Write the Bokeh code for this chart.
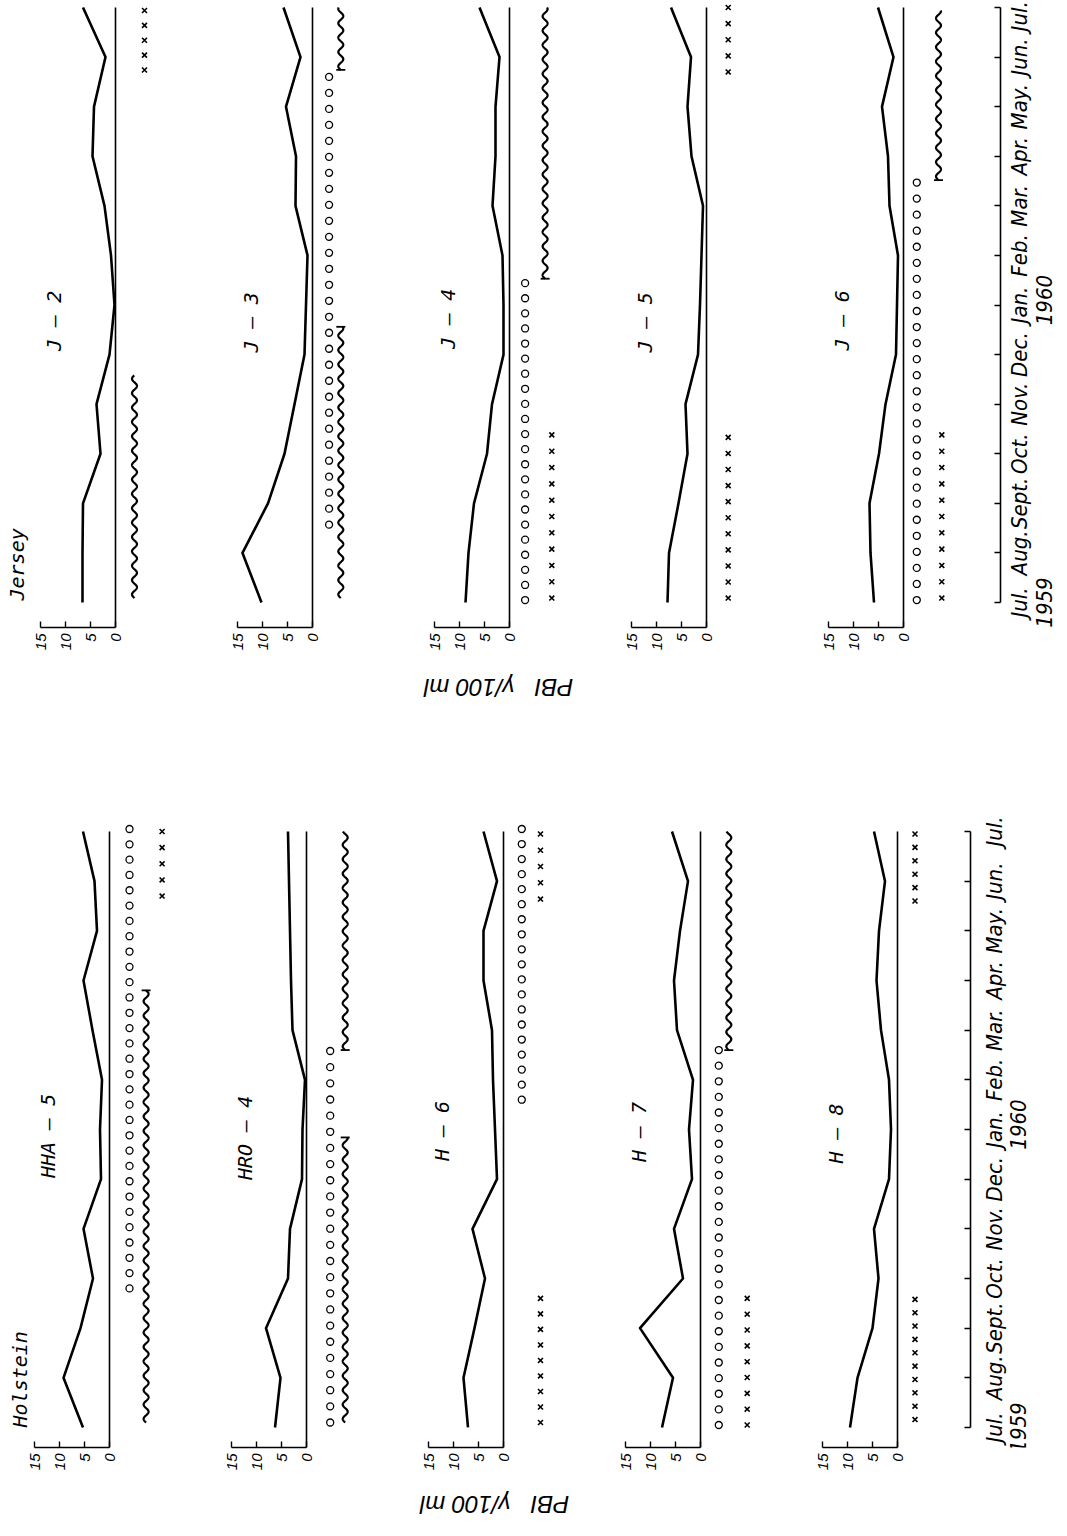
import math
import numpy as np
from bokeh.plotting import figure
from bokeh.layouts import row, column
from bokeh.models import Range1d, FixedTicker
from bokeh.embed import file_html
from bokeh.resources import INLINE
from bokeh.core.properties import value

# ------------------------------------------------------------------ data
month_pos = [0, 1, 2, 3, 4, 5, 6, 7, 8, 9, 10, 11, 12]      # Jul 1959 ... Jul 1960
month_names = ["Jul.", "Aug.", "Sept.", "Oct.", "Nov.", "Dec.", "Jan.",
               "Feb.", "Mar.", "Apr.", "May.", "Jun.", "Jul."]
year_names = ["1959", "1960"]
year_pos = [0.0, 6.1]
pbi_ticks = [0, 5, 10, 15]
axis_title = "PBI\u00a0\u00a0\u00a0γ/100 ml"

holstein_names = ["HHA — 5", "HRO — 4", "H — 6", "H — 7", "H — 8"]
jersey_names = ["J — 2", "J — 3", "J — 4", "J — 5", "J — 6"]

# PBI (gamma/100 ml), monthly, Jul 1959 .. Jul 1960
HHA5 = [5.3, 9.2, 5.8, 3.3, 5.2, 1.7, 1.9, 1.5, 3.4, 5.2, 2.5, 3.0, 5.3]
HRO4 = [6.3, 5.2, 8.1, 3.7, 3.3, 0.9, 0.8, 0.3, 2.8, 3.1, 3.3, 3.5, 3.7]
H6 = [7.1, 8.0, 5.8, 3.7, 6.2, 1.3, 1.7, 2.1, 2.3, 4.0, 4.0, 1.3, 4.0]
H7 = [7.7, 5.5, 12.1, 3.5, 5.3, 1.7, 2.3, 1.5, 4.7, 5.3, 4.1, 2.5, 5.7]
H8 = [9.5, 8.0, 5.0, 3.8, 4.7, 1.7, 1.3, 1.7, 3.3, 4.2, 3.7, 2.5, 4.7]
J2 = [6.6, 6.6, 6.5, 3.0, 3.8, 1.2, 0.2, 0.9, 2.2, 4.6, 4.3, 2.0, 6.5]
J3 = [10.2, 14.0, 8.9, 5.6, 3.6, 1.6, 1.3, 1.0, 3.4, 3.3, 5.3, 2.4, 5.8]
J4 = [8.8, 8.2, 7.1, 4.5, 3.5, 1.2, 1.2, 1.4, 3.4, 2.8, 2.8, 2.0, 6.0]
J5 = [7.8, 7.5, 5.6, 3.8, 4.2, 1.7, 1.3, 1.0, 0.7, 3.0, 3.8, 3.1, 7.1]
J6 = [5.9, 6.6, 6.8, 4.9, 3.6, 1.5, 1.3, 1.1, 2.8, 3.1, 4.3, 2.0, 5.1]

# periods shown by symbols: circles / crosses = (first month, last month, count)
# wavy line = (first month, last month)
HHA5_o = [(2.8, 12.05, 31)]
HHA5_w = [(0.1, 8.8)]
HHA5_x = [(10.7, 12.0, 5)]
HRO4_o = [(0.1, 7.58, 24)]
HRO4_w = [(0.1, 5.84), (7.6, 12.0)]
HRO4_x = []
H6_o = [(6.6, 12.05, 19)]
H6_w = []
H6_x = [(0.1, 2.6, 9), (10.64, 11.95, 5)]
H7_o = [(0.05, 7.6, 25)]
H7_w = [(7.6, 12.0)]
H7_x = [(0.05, 2.6, 9)]
H8_o = []
H8_w = []
H8_x = [(0.16, 2.58, 10), (10.6, 11.95, 6)]
J2_o = []
J2_w = [(0.09, 4.58)]
J2_x = [(10.74, 11.94, 5)]
J3_o = [(1.57, 10.6, 29)]
J3_w = [(0.09, 5.56), (10.74, 12.0)]
J3_x = []
J4_o = [(0.05, 6.44, 22)]
J4_w = [(6.53, 12.0)]
J4_x = [(0.09, 3.38, 11)]
J5_o = []
J5_w = []
J5_x = [(0.09, 3.33, 11), (10.7, 12.0, 5)]
J6_o = [(0.05, 8.47, 27)]
J6_w = [(8.52, 11.94)]
J6_x = [(0.09, 3.38, 11)]

# ------------------------------------------------------------------ style / layout
PX = 5.0                     # pixels per PBI unit
MONO = "DejaVu Sans Mono"
NARROW = "Liberation Sans Narrow, DejaVu Sans Condensed, sans-serif"
SANS = "Liberation Sans, Arial, sans-serif"
WAVE_AMP = 0.5
WAVE_PERIOD = 0.29
HOOK = 0.9
TOTAL_W = 1059

# symbol column offsets (px to the right of the zero line) and wave end hooks
H_cols = [dict(o=20, w=36.6, x=52.6), dict(o=23.7, w=38.7), dict(o=18.3, x=37),
          dict(o=18.3, w=28.3, x=46.7), dict(x=17.5)]
J_cols = [dict(w=19, x=29), dict(o=16.6, w=28.3), dict(o=15.6, w=35.6, x=42.3),
          dict(x=21.7), dict(o=13.3, w=35, x=38.3)]
H_hooks = [[(False, True)], [(False, True), (True, False)], [], [(True, False)], []]
J_hooks = [[(False, False)], [(False, True), (True, False)], [(True, False)], [], [(True, False)]]
H_label_t = [5.87, 5.83, 5.97, 5.95, 5.92]
J_label_t = [5.68, 5.65, 5.72, 5.65, 5.69]


def style_plain(p):
    p.grid.visible = False
    p.outline_line_color = None
    p.background_fill_color = "white"
    p.border_fill_color = "white"


def make_panel(vals, circles, waves, crosses, cols, hooks, name, name_t,
               L, R, yr, height, bottom):
    p = figure(width=L + R, height=height,
               x_range=Range1d(L / PX, -R / PX), y_range=yr,
               output_backend="svg", toolbar_location=None,
               min_border_left=0, min_border_right=0, min_border_top=0,
               min_border_bottom=bottom,
               x_axis_location="below", y_axis_location=None)
    style_plain(p)

    ax = p.xaxis[0]
    ax.ticker = FixedTicker(ticks=pbi_ticks)
    ax.bounds = (min(pbi_ticks), max(pbi_ticks))
    ax.major_tick_in = 6
    ax.major_tick_out = 0
    ax.minor_tick_line_color = None
    ax.axis_line_width = 1.6
    ax.major_tick_line_width = 1.4
    ax.major_label_orientation = math.pi / 2
    ax.major_label_standoff = 6
    ax.major_label_text_font = SANS
    ax.major_label_text_font_style = "italic"
    ax.major_label_text_font_size = "15px"
    ax.major_label_text_color = "black"

    # zero line
    p.segment(x0=[0], y0=[yr.start], x1=[0], y1=[month_pos[-1]],
              line_color="black", line_width=1.6)
    # PBI curve
    p.line(x=vals, y=month_pos, line_color="black", line_width=2.6,
           line_join="round")

    for (t0, t1, n) in circles:
        ts = np.linspace(t0, t1, n)
        p.scatter(x=[-cols["o"] / PX] * n, y=ts, marker="circle", size=7,
                  fill_color=None, line_color="black", line_width=1.3)
    for (t0, t1, n) in crosses:
        ts = np.linspace(t0, t1, n)
        p.scatter(x=[-cols["x"] / PX] * n, y=ts, marker="x", size=7,
                  line_color="black", line_width=1.6)
    for (t0, t1), (h0, h1) in zip(waves, hooks):
        xc = -cols["w"] / PX
        ts = np.linspace(t0, t1, int((t1 - t0) * 120) + 2)
        xs = xc + WAVE_AMP * np.sin(2 * np.pi * (ts - t0) / WAVE_PERIOD)
        p.line(x=xs, y=ts, line_color="black", line_width=2.2)
        if h0:
            p.segment(x0=[xc + HOOK], y0=[t0], x1=[xc - HOOK], y1=[t0],
                      line_color="black", line_width=1.8)
        if h1:
            p.segment(x0=[xc + HOOK], y0=[t1], x1=[xc - HOOK], y1=[t1],
                      line_color="black", line_width=1.8)

    p.text(x=[12.3], y=[name_t], text=[name], angle=math.pi / 2,
           text_align="center", text_baseline="middle",
           text_font=value(MONO), text_font_style="italic",
           text_font_size="20px", text_color="black")
    return p


def make_time(yr, width, height, bottom, month_dx, year_dx):
    t = figure(width=width, height=height,
               x_range=Range1d(0, width - 12), y_range=yr,
               output_backend="svg", toolbar_location=None,
               min_border_left=12, min_border_right=0, min_border_top=0,
               min_border_bottom=bottom,
               x_axis_location=None, y_axis_location="left")
    style_plain(t)
    ax = t.yaxis[0]
    ax.ticker = FixedTicker(ticks=month_pos)
    ax.bounds = (month_pos[0], month_pos[-1])
    ax.major_tick_out = 6
    ax.major_tick_in = 0
    ax.minor_tick_line_color = None
    ax.axis_line_width = 1.6
    ax.major_tick_line_width = 1.4
    ax.major_label_overrides = {m: "" for m in month_pos}
    ax.major_label_standoff = 0
    # keep the last label inside the page
    label_y = [min(m, yr.end - 0.32) for m in month_pos]
    t.text(x=[month_dx] * len(month_pos), y=label_y, text=month_names,
           angle=math.pi / 2, text_align="center", text_baseline="top",
           text_font=value(NARROW), text_font_style="italic",
           text_font_size="22px", text_color="black")
    t.text(x=[year_dx] * len(year_pos), y=year_pos, text=year_names,
           angle=math.pi / 2, text_align="center", text_baseline="top",
           text_font=value(NARROW), text_font_style="italic",
           text_font_size="22px", text_color="black")
    return t


def make_title_strip(height, cx, cy):
    s = figure(width=TOTAL_W, height=height,
               x_range=Range1d(0, TOTAL_W), y_range=Range1d(height, 0),
               output_backend="svg", toolbar_location=None,
               min_border_left=0, min_border_right=0, min_border_top=0,
               min_border_bottom=0, x_axis_location=None, y_axis_location=None)
    style_plain(s)
    s.text(x=[cx], y=[cy], text=[axis_title], angle=math.pi,
           text_align="center", text_baseline="middle",
           text_font=value(SANS), text_font_style="italic",
           text_font_size="24px", text_color="black")
    return s


# ---- Jersey block (top)
J_height, J_bottom = 667, 40
J_yr = Range1d(-0.504, 12.141)
J_vals = [J2, J3, J4, J5, J6]
J_o = [J2_o, J3_o, J4_o, J5_o, J6_o]
J_w = [J2_w, J3_w, J4_w, J5_w, J6_w]
J_x = [J2_x, J3_x, J4_x, J5_x, J6_x]
J_L = [115, 100, 100, 100, 100]
J_R = [97, 97, 97, 97, 85]
j_figs = []
for i in range(5):
    j_figs.append(make_panel(J_vals[i], J_o[i], J_w[i], J_x[i], J_cols[i], J_hooks[i],
                             jersey_names[i], J_label_t[i], J_L[i], J_R[i],
                             J_yr, J_height, J_bottom))
j_figs[0].text(x=[19.8], y=[0.04], text=["Jersey"], angle=math.pi / 2,
               text_align="left", text_baseline="middle",
               text_font=value(MONO), text_font_style="italic",
               text_font_size="20px", text_color="black")
j_time = make_time(J_yr, TOTAL_W - sum(J_L) - sum(J_R), J_height, J_bottom, 6, 35)
j_title = make_title_strip(53, 498, 20)

# ---- Holstein block (bottom)
H_height, H_bottom = 767, 40
H_yr = Range1d(-0.403, 14.235)
H_vals = [HHA5, HRO4, H6, H7, H8]
H_o = [HHA5_o, HRO4_o, H6_o, H7_o, H8_o]
H_w = [HHA5_w, HRO4_w, H6_w, H7_w, H8_w]
H_x = [HHA5_x, HRO4_x, H6_x, H7_x, H8_x]
H_L = [109, 100, 100, 100, 100]
H_R = [97, 97, 97, 97, 61]
h_figs = []
for i in range(5):
    h_figs.append(make_panel(H_vals[i], H_o[i], H_w[i], H_x[i], H_cols[i], H_hooks[i],
                             holstein_names[i], H_label_t[i], H_L[i], H_R[i],
                             H_yr, H_height, H_bottom))
h_figs[0].text(x=[17.9], y=[0.0], text=["Holstein"], angle=math.pi / 2,
               text_align="left", text_baseline="middle",
               text_font=value(MONO), text_font_style="italic",
               text_font_size="20px", text_color="black")
h_time = make_time(H_yr, TOTAL_W - sum(H_L) - sum(H_R), H_height, H_bottom, 11, 39)
h_title = make_title_strip(38, 494, 17)

layout = column(row(*j_figs, j_time), j_title,
                row(*h_figs, h_time), h_title)
open("out.html", "w").write(file_html(layout, INLINE))
